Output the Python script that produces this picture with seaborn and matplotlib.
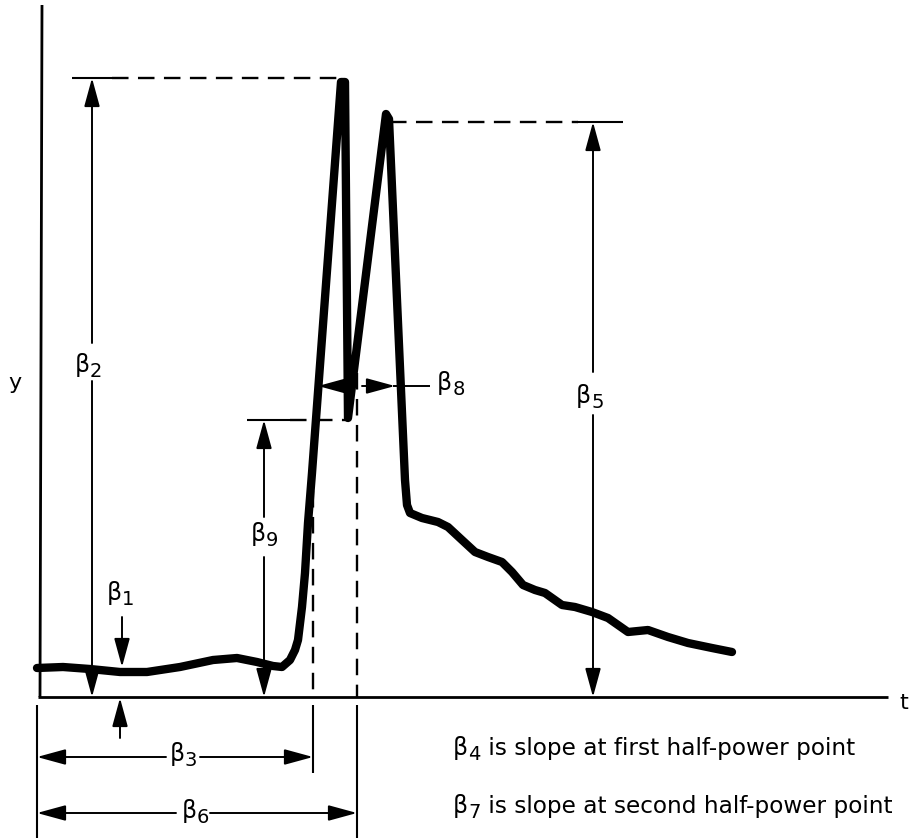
import matplotlib
matplotlib.use("Agg")
import matplotlib.pyplot as plt
import seaborn as sns
import pandas as pd

# ---------------- data (t, y units measured from the chart origin) ----------------
t_curve = [-1, 25, 52, 82, 109, 142, 175, 199, 219, 235, 244, 252, 257, 260, 264,
           267, 270, 274, 303, 307, 310, 348, 351, 359, 363, 367, 369, 372, 384,
           400, 410, 424, 437, 450, 464, 474, 485, 497, 507, 524, 537, 554, 570,
           590, 610, 630, 650, 674, 694]
y_curve = [29, 30, 28, 25, 25, 30, 37, 39, 35, 31, 30, 37, 47, 57, 90,
           124, 174, 224, 615, 615, 279, 583, 578, 397, 307, 217, 192, 184, 179,
           175, 170, 157, 145, 140, 135, 125, 112, 107, 104, 92, 90, 85, 79,
           65, 67, 60, 54, 49, 45]

beta2_level = 619      # first peak height
beta5_level = 575      # second peak height
beta9_level = 277      # half-power level
beta1_level = 29       # baseline offset
t_half1 = 275          # first half-power point
t_half2 = 319          # second half-power point
t_beta2 = 54
t_beta5 = 555
t_beta9 = 226
t_beta1 = 84
beta8_y = 311
beta8_left = 280
beta8_right = 357
t_axis_end = 850
y_axis_top = 692

def_texts = [(4, " is slope at first half-power point"),
             (7, " is slope at second half-power point")]

# ---------------- figure ----------------
sns.set_style("white")
FONT = ["DejaVu Sans"]
plt.rcParams["font.family"] = FONT

fig = plt.figure(figsize=(9.21, 8.38), dpi=100)
ax = fig.add_axes([0, 0, 1, 1])
ax.set_xlim(-38, 883)
ax.set_ylim(-141, 697)
ax.axis("off")

K = "black"

# axes of the diagram
ax.plot([0, t_axis_end], [0, 0], color=K, lw=2.0, solid_capstyle="butt")
ax.plot([2, 4], [0, y_axis_top], color=K, lw=2.0, solid_capstyle="butt")

# signal curve
df = pd.DataFrame({"t": t_curve, "y": y_curve})
sns.lineplot(data=df, x="t", y="y", sort=False, estimator=None, color=K,
             lw=6.0, ax=ax, solid_joinstyle="round", solid_capstyle="round")

DASH = (0, (7, 4))


def dashed(x0, y0, x1, y1):
    ax.plot([x0, x1], [y0, y1], color=K, lw=1.7, ls=DASH, dash_capstyle="butt")


def solid(x0, y0, x1, y1, lw=1.5):
    ax.plot([x0, x1], [y0, y1], color=K, lw=lw, solid_capstyle="butt")


def arrow(x0, y0, x1, y1):
    ax.annotate("", xy=(x1, y1), xytext=(x0, y0),
                arrowprops=dict(arrowstyle="-|>,head_length=1.1,head_width=0.3",
                                mutation_scale=16, lw=1.4, color=K,
                                shrinkA=0, shrinkB=0))


def rich(x, y, pieces, ha="center"):
    r = fig.canvas.get_renderer()
    arts = []
    for s, fs, dy in pieces:
        a = ax.annotate(s, xy=(x, y), xytext=(0, dy), textcoords="offset pixels",
                        fontsize=fs, ha="left", va="baseline", color=K)
        arts.append(a)
    widths = [a.get_window_extent(r).width for a in arts]
    total = sum(widths)
    cur = -total / 2 if ha == "center" else 0
    for a, w, (s, fs, dy) in zip(arts, widths, pieces):
        a.xyann = (cur, dy)
        cur += w


def blabel(x, y, n, ha="center", rest=None, fs=17):
    pieces = [("β", fs, 0), (str(n), fs - 3, -5)]
    if rest:
        pieces.append((rest, fs - 0.3, 0))
    rich(x, y, pieces, ha=ha)


fig.canvas.draw()

# beta2: first peak height
solid(34, beta2_level, 74, beta2_level)
dashed(74, beta2_level, 307, beta2_level)
arrow(t_beta2, 354, t_beta2, beta2_level)
arrow(t_beta2, 316, t_beta2, 0)
blabel(t_beta2 - 4, 325, 2)

# beta5: second peak height
dashed(352, beta5_level, 540, beta5_level)
solid(539, beta5_level, 585, beta5_level)
arrow(t_beta5, 325, t_beta5, beta5_level)
arrow(t_beta5, 282, t_beta5, 0)
blabel(t_beta5 - 3, 294, 5)

# beta9: half-power level
solid(209, beta9_level, 252, beta9_level)
dashed(252, beta9_level, 310, beta9_level)
arrow(t_beta9, 180, t_beta9, beta9_level)
arrow(t_beta9, 140, t_beta9, 0)
blabel(t_beta9, 156, 9)

# half-power vertical markers
dashed(t_half1, 232, t_half1, 0)
dashed(t_half2, 324, t_half2, 0)
solid(t_half1, -8, t_half1, -76)
solid(t_half2, -8, t_half2, -141)
solid(-1, -8, -1, -141)

# beta1: baseline offset
arrow(t_beta1, 80, t_beta1, beta1_level + 1)
arrow(t_beta1 - 2, -41, t_beta1 - 2, -1)
blabel(t_beta1 - 2, 97, 1)

# beta8: width between half-power points
arrow(307, beta8_y, beta8_left, beta8_y)
arrow(324, beta8_y, beta8_right, beta8_y)
solid(beta8_right - 2, beta8_y, 392, beta8_y, lw=1.4)
blabel(399, 307, 8, ha="left")

# beta3 / beta6 horizontal spans
arrow(128, -60, -1, -60)
arrow(162, -60, t_half1, -60)
blabel(145, -64, 3)
arrow(138, -116, -1, -116)
arrow(172, -116, t_half2, -116)
blabel(157, -121, 6)

# axis letters
ax.text(-23, 314, "y", fontsize=16, ha="center", va="center", color=K)
ax.text(866, -6, "t", fontsize=16, ha="center", va="center", color=K)

# definitions
blabel(415, -58, def_texts[0][0], ha="left", rest=def_texts[0][1], fs=17)
blabel(415, -116, def_texts[1][0], ha="left", rest=def_texts[1][1], fs=17)

fig.savefig("out.png", dpi=100)
